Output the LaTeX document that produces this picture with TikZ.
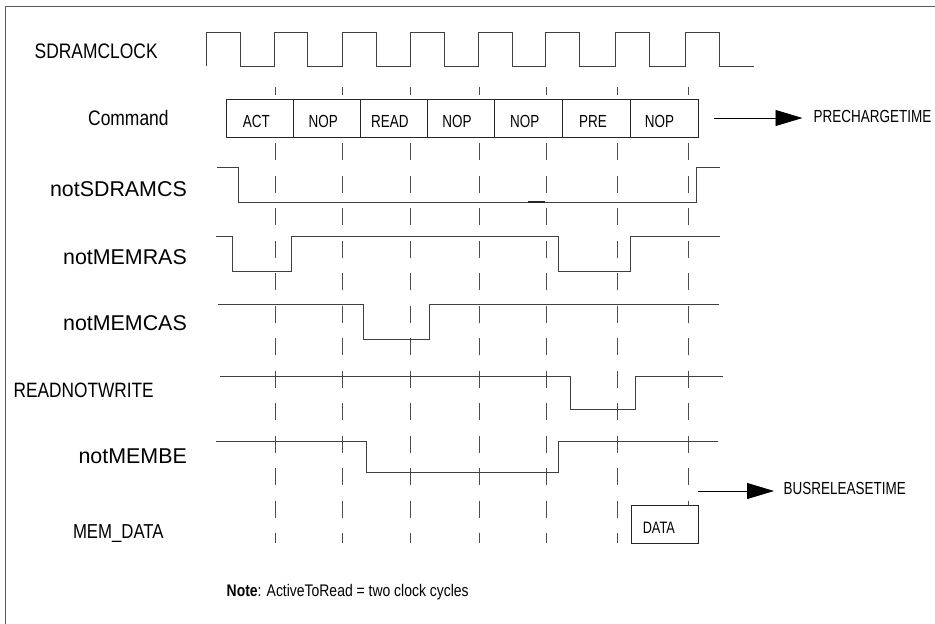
\documentclass[tikz,border=0pt]{standalone}
\usepackage{fontspec}
\setmainfont{Liberation Sans}
\newfontfamily\condA[FakeStretch=0.83]{Liberation Sans}
\newfontfamily\condB[FakeStretch=0.77]{Liberation Sans}
\usetikzlibrary{arrows.meta}
\tikzset{
  frameline/.style={draw=black!65, line width=1pt},
  sig/.style={draw=black!75, line width=0.9pt},
  gridline/.style={draw=black!70, line width=0.9pt, dash pattern=on 17pt off 15.5pt, dash phase=9pt},
  cbox/.style={draw=black!85, fill=white, line width=0.9pt, minimum height=38pt, inner sep=0pt},
  sname/.style={inner sep=0pt, font=\fontsize{21.4}{24}\selectfont},
  cname/.style={inner sep=0pt, font=\condA\fontsize{21}{24}\selectfont},
  blab/.style={inner sep=0pt, anchor=base, font=\condB\fontsize{17.5}{20}\selectfont},
  arr/.style={draw=black, line width=0.9pt, -{Triangle[length=27pt,width=16pt]}},
}
\begin{document}
\begin{tikzpicture}[x=1pt,y=-1pt]
\useasboundingbox (0,0) rectangle (935,624);
\draw[frameline] (5,624) -- (5,6) -- (935,6);

% clock
\draw[sig] (206,66) -- (206,32) -- (240,32) -- (240,66) -- (274,66) -- (274,32) -- (307.5,32) -- (307.5,66)
  -- (342,66) -- (342,32) -- (376,32) -- (376,66) -- (410.5,66) -- (410.5,32) -- (444.5,32) -- (444.5,66)
  -- (478.3,66) -- (478.3,32) -- (512.7,32) -- (512.7,66) -- (545.7,66) -- (545.7,32) -- (579.3,32) -- (579.3,66)
  -- (615.3,66) -- (615.3,32) -- (649.3,32) -- (649.3,66) -- (685.3,66) -- (685.3,32) -- (719.3,32) -- (719.3,66)
  -- (753.7,66);

% dashed clock-edge guides
\foreach \x in {275.3,342.3,410.7,479.3,546.7,617.7,688}
  \draw[gridline] (\x,87) -- (\x,543);

% command boxes
\node[cbox, minimum width=67pt] (c1) at (259.8,118) {};
\node[cbox, minimum width=67pt] (c2) at (326.8,118) {};
\node[cbox, minimum width=67pt] (c3) at (393.8,118) {};
\node[cbox, minimum width=67.4pt] (c4) at (461,118) {};
\node[cbox, minimum width=68pt] (c5) at (528.7,118) {};
\node[cbox, minimum width=68pt] (c6) at (596.7,118) {};
\node[cbox, minimum width=67.6pt] (c7) at (664.5,118) {};
\node[blab] (t1) at (256.3,127.7) {ACT};
\node[blab] (t2) at (323.3,127.7) {NOP};
\node[blab] (t3) at (389.8,127.7) {READ};
\node[blab] (t4) at (457,127.7) {NOP};
\node[blab] (t5) at (524.7,127.7) {NOP};
\node[blab] (t6) at (593,127.7) {PRE};
\node[blab] (t7) at (659.5,127.7) {NOP};

% signals
\draw[sig] (217.3,167.3) -- (238,167.3) -- (238,202.3) -- (696,202.3) -- (696,167.3) -- (720,167.3);
\draw[draw=black!85, line width=2.2pt] (528,202.3) -- (545,202.3);
\draw[sig] (216.3,236.3) -- (232.3,236.3) -- (232.3,271.7) -- (291,271.7) -- (291,236.3) -- (558.7,236.3)
  -- (558.7,271.7) -- (630.7,271.7) -- (630.7,236.3) -- (720,236.3);
\draw[sig] (218.3,304.3) -- (363,304.3) -- (363,339.3) -- (429.3,339.3) -- (429.3,304.3) -- (719,304.3);
\draw[sig] (220.3,376) -- (570,376) -- (570,409.3) -- (635.3,409.3) -- (635.3,376) -- (723,376);
\draw[sig] (216.3,441.7) -- (366.7,441.7) -- (366.7,472.7) -- (558,472.7) -- (558,441) -- (717.7,441);

% data box
\node[cbox, minimum width=67.4pt, minimum height=37.6pt] (dbox) at (665,524.5) {};
\node[blab, font=\condB\fontsize{16.5}{19}\selectfont] (dtxt) at (658.8,533.3) {DATA};

% signal names
\node[cname, anchor=base west] (nclk) at (34.5,58.3) {SDRAMCLOCK};
\node[cname, anchor=base west] (ncmd) at (88,125) {Command};
\node[sname, anchor=base east] (ncs) at (187,196) {notSDRAMCS};
\node[sname, anchor=base east] (nras) at (187,264) {notMEMRAS};
\node[sname, anchor=base east] (ncas) at (187,330.7) {notMEMCAS};
\node[cname, anchor=base west, font=\condA\fontsize{20.8}{24}\selectfont] (nrw) at (13.5,397.3) {READNOTWRITE};
\node[sname, anchor=base east] (nbe) at (187,463.3) {notMEMBE};
\node[cname, anchor=base west, font=\condA\fontsize{20.2}{24}\selectfont] (ndata) at (72.8,538.3) {MEM\_DATA};

% timing labels and arrows
\node[blab, anchor=base west] (pre) at (813.5,122.7) {PRECHARGETIME};
\draw[arr] ([xshift=15pt]c7.east) -- ([xshift=-11pt]pre.west |- c7.east);
\node[blab, anchor=base west] (bus) at (783.5,494.3) {BUSRELEASETIME};
\coordinate (brs) at (698,491);
\draw[arr] (brs) -- ([xshift=-9.5pt]bus.west |- brs);

% note
\node[inner sep=0pt, anchor=base west, font=\condA\fontsize{16.8}{20}\selectfont] (note) at (226.5,596)
  {\textbf{Note}: ActiveToRead = two clock cycles};
\end{tikzpicture}
\end{document}
